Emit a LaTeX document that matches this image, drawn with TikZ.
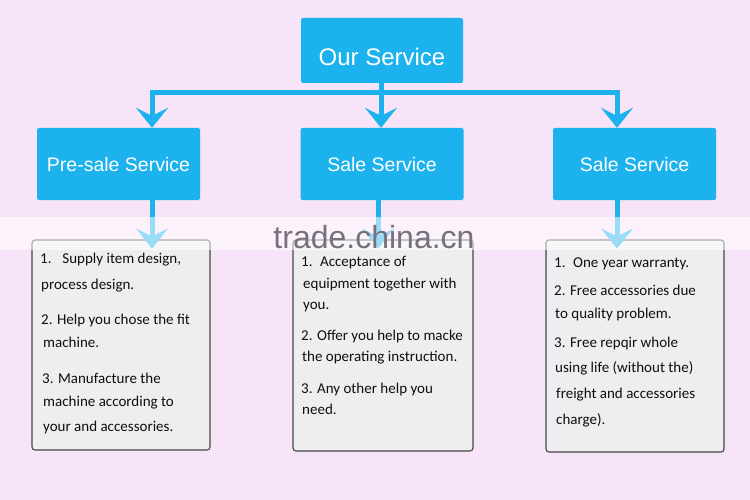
\documentclass[tikz,border=0pt]{standalone}
\usepackage{fontspec}
\setmainfont{Carlito}
\newfontfamily\headfont{Liberation Sans}
\usetikzlibrary{arrows.meta}
\definecolor{bgpink}{RGB}{247,228,248}
\definecolor{cyanbox}{RGB}{27,178,238}
\definecolor{panel}{RGB}{238,237,240}
\definecolor{panelline}{RGB}{70,70,70}
\definecolor{txt}{RGB}{15,15,15}
\definecolor{wm}{RGB}{120,112,125}
\tikzset{
  headbox/.style={fill=cyanbox, rounded corners=2pt, text=white, font=\headfont\fontsize{19.5}{22}\selectfont, inner sep=0pt},
  conn/.style={draw=cyanbox, line width=5pt},
  arr/.style={conn, -{Stealth[length=20pt,width=32pt,inset=8pt]}},
  panelbox/.style={draw=panelline, fill=panel, line width=1.1pt, rounded corners=3pt},
  ln/.style={anchor=base west, inner sep=0pt, text=txt, font=\fontsize{15}{17}\selectfont},
}
\begin{document}
\begin{tikzpicture}[x=1pt,y=-1pt]
\fill[bgpink] (0,0) rectangle (750,500);
\useasboundingbox (0,0) rectangle (750,500);

% heading boxes
\node[headbox, minimum width=162pt, minimum height=65pt, font=\headfont\fontsize{24}{28}\selectfont] (top) at (382,50.5) {\raisebox{-15pt}[0pt][0pt]{Our Service}};
\node[headbox, minimum width=163pt, minimum height=72pt] (pre) at (118.5,164) {\raisebox{-8pt}[0pt][0pt]{Pre-sale Service}};
\node[headbox, minimum width=163pt, minimum height=72pt] (sale) at (382,164) {\raisebox{-8pt}[0pt][0pt]{Sale Service}};
\node[headbox, minimum width=163pt, minimum height=72pt] (after) at (634.5,164) {\raisebox{-8pt}[0pt][0pt]{Sale Service}};

% junction coordinates
\coordinate (jC) at (381,93);
\coordinate (jL) at (152,93);
\coordinate (jR) at (617,93);

\draw[conn] (top.south -| jC) -- (jC);
\draw[conn] ([xshift=-2.5pt]jL) -- ([xshift=2.5pt]jR);
\draw[arr] (jL) -- (jL |- pre.north);
\draw[arr] (jC) -- (jC |- sale.north);
\draw[arr] (jR) -- (jR |- after.north);

% panels
\node[panelbox, minimum width=178pt, minimum height=210pt, inner sep=0pt] (p1) at (121,345) {};
\node[panelbox, minimum width=180pt, minimum height=211pt, inner sep=0pt] (p2) at (383,345.5) {};
\node[panelbox, minimum width=178pt, minimum height=212pt, inner sep=0pt] (p3) at (635,346) {};

% lower arrows
\draw[arr] (jL |- pre.south) -- ([yshift=-9pt]jL |- p1.north);
\draw[arr] ([xshift=-3pt]jC |- sale.south) -- ([xshift=-3pt,yshift=-9pt]jC |- p2.north);
\draw[arr] (jR |- after.south) -- ([yshift=-9pt]jR |- p3.north);

% washed band and watermark
\fill[white, opacity=0.55] (0,217) rectangle (750,250);
\node[anchor=base, inner sep=0pt, text=wm, font=\headfont\fontsize{32}{34}\selectfont] (wmark) at (374,248) {trade.china.cn};

% left panel text
\node[ln] (a1) at (40,263) {1.\enspace\ Supply item design,};
\node[ln] (a2) at (41,289) {process design.};
\node[ln] (a3) at (41,324) {2. Help you chose the fit};
\node[ln] (a4) at (43,347) {machine.};
\node[ln] (a5) at (42,383) {3. Manufacture the};
\node[ln] (a6) at (43,406) {machine according to};
\node[ln] (a7) at (43,431) {your and accessories.};

% center panel text
\node[ln] (b1) at (301,266) {1.\enspace Acceptance of};
\node[ln] (b2) at (303,288) {equipment together with};
\node[ln] (b3) at (303,309) {you.};
\node[ln] (b4) at (301,340) {2. Offer you help to macke};
\node[ln] (b5) at (302,361) {the operating instruction.};
\node[ln] (b6) at (301,393) {3. Any other help you};
\node[ln] (b7) at (302,414) {need.};

% right panel text
\node[ln] (c1) at (554,267) {1.\enspace One year warranty.};
\node[ln] (c2) at (554,295) {2. Free accessories due};
\node[ln] (c3) at (555,318) {to quality problem.};
\node[ln] (c4) at (554,347) {3. Free repqir whole};
\node[ln] (c5) at (555,372) {using life (without the)};
\node[ln] (c6) at (556,398) {freight and accessories};
\node[ln] (c7) at (556,424) {charge).};
\end{tikzpicture}
\end{document}
